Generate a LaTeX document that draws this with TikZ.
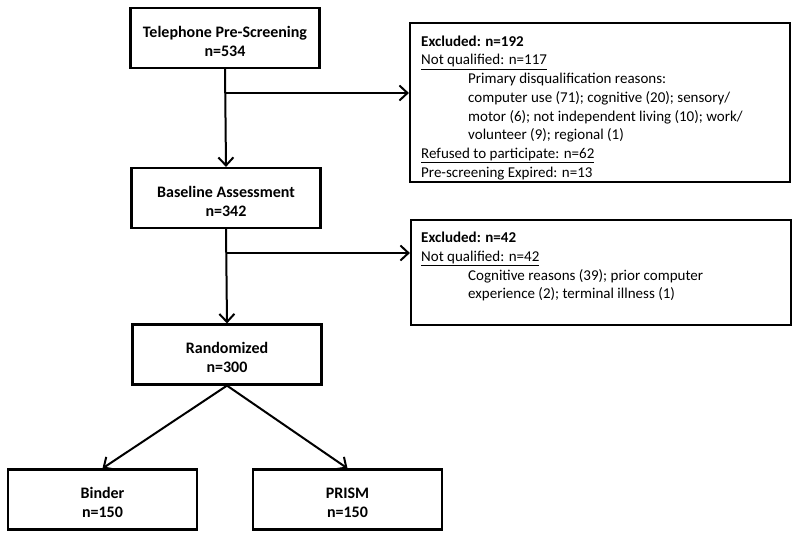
\documentclass[tikz,border=0pt]{standalone}
\usepackage{fontspec}
\setmainfont{Carlito}
\usetikzlibrary{arrows.meta}
\newcommand{\topstrut}{\rule{0pt}{17.5pt}}
\begin{document}
\begin{tikzpicture}[x=1pt,y=-1pt,
  box/.style={draw=black,line width=2.2pt,fill=white,minimum width=189pt,minimum height=60pt,
    align=center,font=\fontsize{16}{19}\selectfont\bfseries,inner sep=0pt},
  exbox/.style={draw=black,line width=2.2pt,fill=white,inner sep=0pt},
  extext/.style={anchor=north west,inner sep=0pt,align=left,font=\fontsize{15}{18.7}\selectfont},
  conn/.style={line width=2pt,-{Straight Barb[length=8pt,width=15pt,line width=2pt]}}]
\useasboundingbox (0,0) rectangle (800,539);
\node[box] (tel) at (225,38) {\topstrut Telephone Pre-Screening\\n=534};
\node[box] (base) at (226,198) {\topstrut Baseline Assessment\\n=342};
\node[box] (rand) at (227,354.5) {\topstrut Randomized\\n=300};
\node[box] (binder) at (102.5,499.5) {\topstrut Binder\\n=150};
\node[box] (prism) at (347.5,499.5) {\topstrut PRISM\\n=150};
\node[exbox,minimum width=380pt,minimum height=159pt] (ex1) at (600,102.5) {};
\node[exbox,minimum width=380pt,minimum height=105pt] (ex2) at (601,272.5) {};
\node[extext] (ex1t) at (421,35.5) {\textbf{Excluded: n=192}\\
\underline{Not qualified: n=117}\\
\hspace*{47pt}Primary disqualification reasons:\\
\hspace*{47pt}computer use (71); cognitive (20); sensory/\\
\hspace*{47pt}motor (6); not independent living (10); work/\\
\hspace*{47pt}volunteer (9); regional (1)\\
\underline{Refused to participate: n=62}\\
\underline{Pre-screening Expired: n=13}};
\node[extext] (ex2t) at (421,232) {\textbf{Excluded: n=42}\\
\underline{Not qualified: n=42}\\
\hspace*{47pt}Cognitive reasons (39); prior computer\\
\hspace*{47pt}experience (2); terminal illness (1)};
\coordinate (b1) at (tel.south |- 0,93);
\coordinate (b2) at (base.south |- 0,253);
\draw[conn] (tel.south) -- (base.north);
\draw[conn] (b1) -- (b1 -| ex1.west);
\draw[conn] (base.south) -- (rand.north);
\draw[conn] (b2) -- (b2 -| ex2.west);
\draw[conn] (rand.south) -- (binder.north);
\draw[conn] (rand.south) -- (prism.north);
\end{tikzpicture}
\end{document}
